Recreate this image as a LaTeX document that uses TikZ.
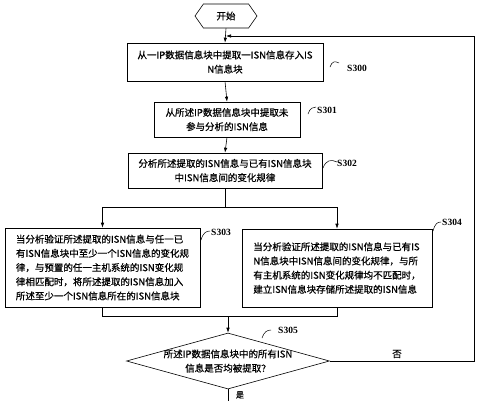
\documentclass[tikz,border=0pt]{standalone}
\usepackage{fontspec}
\setmainfont{Noto Sans CJK SC}[FakeBold=0.6]
\newfontfamily\latf{Liberation Serif}
\usetikzlibrary{shapes.geometric,shapes.symbols,arrows.meta}
\begin{document}
\begin{tikzpicture}[x=1pt,y=-1pt,
  box/.style={draw,line width=0.6pt,inner sep=0pt,align=center,font=\fontsize{9.5}{14.2}\selectfont},
  arr/.style={line width=0.6pt,-{Latex[length=5pt,width=3.5pt]}},
  ln/.style={line width=0.6pt},
  tick/.style={line width=0.5pt},
  lab/.style={font=\latf\bfseries\fontsize{9.5}{11}\selectfont,inner sep=0pt}]
\useasboundingbox (0,0) rectangle (479,400);
\node[draw,line width=0.6pt,signal,signal to=west and east,signal pointer angle=110,minimum width=62pt,minimum height=24pt,inner sep=0pt,font=\fontsize{9.5}{11}\selectfont] (start) at (226,16) {开始};
\node[box,minimum width=196pt,minimum height=38pt] (s300) at (225,62) {从一IP数据信息块中提取一ISN信息存入IS\\N信息块};
\node[box,minimum width=146pt,minimum height=35pt] (s301) at (227,119.5) {从所述IP数据信息块中提取未\\参与分析的ISN信息};
\node[box,minimum width=194pt,minimum height=35pt] (s302) at (225,170.5) {分析所述提取的ISN信息与已有ISN信息块\\中ISN信息间的变化规律};
\node[box,minimum width=195pt,minimum height=79pt,align=left] (s303) at (102.5,267.5) {当分析验证所述提取的ISN信息与任一已\\有ISN信息块中至少一个ISN信息的变化规\\律，与预置的任一主机系统的ISN变化规\\律相匹配时，将所述提取的ISN信息加入\\所述至少一个ISN信息所在的ISN信息块};
\node[box,minimum width=190pt,minimum height=78pt,align=left] (s304) at (337,268) {当分析验证所述提取的ISN信息与已有IS\\N信息块中ISN信息间的变化规律，与所\\有主机系统的ISN变化规律均不匹配时，\\建立ISN信息块存储所述提取的ISN信息};
\node[draw,line width=0.6pt,diamond,minimum width=203pt,minimum height=56pt,inner sep=0pt] (d) at (228,361) {};
\node[align=center,font=\fontsize{9.5}{14.2}\selectfont,inner sep=0pt] (dt) at (d.center) {所述IP数据信息块中的所有ISN\\信息是否均被提取？};
% coordinates
\coordinate (fb) at (226,36);
\coordinate (rc) at (474,36);
\coordinate (sp) at (225,207);
\coordinate (spl) at (102.5,207);
\coordinate (spr) at (337,207);
\coordinate (mg) at (228,316);
\coordinate (mgl) at (102.5,316);
\coordinate (mgr) at (337,316);
\coordinate (bot) at (228,402);
% connectors
\draw[arr] (start.south) -- (s300.north);
\draw[arr] (s300.south) -- (s301.north);
\draw[arr] (s301.south) -- (s302.north);
\draw[ln] (s302.south) -- (sp);
\draw[ln] (spl) -- (spr);
\draw[arr] (spl) -- (s303.north);
\draw[arr] (spr) -- (s304.north);
\draw[ln] (s303.south) -- (mgl) -- (mgr) -- (s304.south);
\draw[arr] (mg) -- (d.north);
\draw[arr] (d.east) -- (d.east -| rc) -- (rc) -- (fb);
\node[font=\fontsize{9.5}{11}\selectfont,inner sep=0pt] (no) at (397,354) {否};
\draw[ln] (d.south) -- (bot);
\node[font=\fontsize{8}{9}\selectfont,inner sep=0pt] (yes) at (240,395) {是};
% step labels
\draw[tick] (330,67) .. controls (332,61) and (335,61) .. (339,63);
\node[lab] (l300) at (357,68) {S300};
\draw[tick] (308,114) .. controls (310,108) and (313,107) .. (316,107);
\node[lab] (l301) at (327,110) {S301};
\draw[tick] (323,168) .. controls (326,160) and (331,159) .. (337,162);
\node[lab] (l302) at (347,163) {S302};
\draw[tick] (201,240) .. controls (203,233) and (206,231) .. (210,231);
\node[lab] (l303) at (221,232) {S303};
\draw[tick] (433,231) .. controls (435,224) and (437,222) .. (441,222);
\node[lab] (l304) at (452,222) {S304};
\draw[tick] (262,338) .. controls (264,332) and (267,330) .. (271,330);
\node[lab] (l305) at (288,330) {S305};
\end{tikzpicture}
\end{document}
